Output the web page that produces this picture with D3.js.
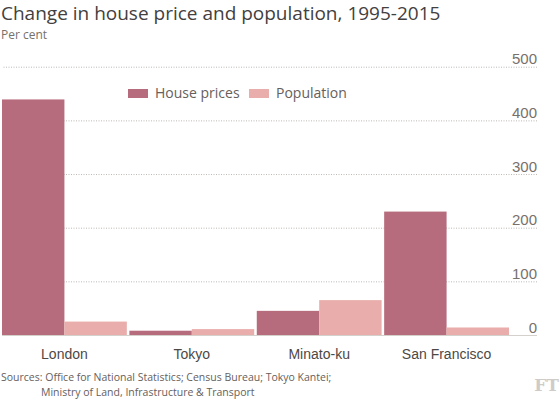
<!DOCTYPE html>
<html>
<head>
<meta charset="utf-8">
<script src="https://cdn.jsdelivr.net/npm/d3@7"></script>
<style>
  body { margin: 0; background: #fff; }
  svg { display: block; font-family: 'Open Sans', sans-serif; }
  .y-axis .domain, .x-axis .domain { display: none; }
  .y-axis line { stroke: #bdb8b4; stroke-dasharray: 1, 1.5; }
  .y-axis text { fill: #77716c; font-size: 15px; }
  .x-axis text { fill: #4d4845; font-size: 14px; }
</style>
</head>
<body>
<div class="chart"></div>
<script>
  const cities = ['London', 'Tokyo', 'Minato-ku', 'San Francisco'];
  const series = ['House prices', 'Population'];
  const housePrices = [439, 8, 45, 230];
  const population = [25, 11, 65, 14];
  const yTicks = [0, 100, 200, 300, 400, 500];

  const colors = { 'House prices': '#b76c7d', Population: '#e9aeac' };

  const width = 560;
  const height = 399;

  const svg = d3
    .select('.chart')
    .append('svg')
    .attr('width', width)
    .attr('height', height);

  const dataset = cities.map((city, i) => ({
    city,
    values: [
      { key: 'House prices', value: housePrices[i] },
      { key: 'Population', value: population[i] },
    ],
  }));

  const x0 = d3
    .scaleBand()
    .domain(cities)
    .range([2, 509])
    .paddingInner(0.02);
  const x1 = d3
    .scaleBand()
    .domain(series)
    .range([0, x0.bandwidth()]);
  const yScale = d3
    .scaleLinear()
    .domain([0, 500])
    .range([335, 66.7]);

  // Title
  svg
    .append('text')
    .attr('x', 1)
    .attr('y', 20)
    .attr('fill', '#43403e')
    .style('font-size', '19px')
    .text('Change in house price and population, 1995-2015');
  svg
    .append('text')
    .attr('x', 1)
    .attr('y', 39)
    .attr('fill', '#77716c')
    .style('font-size', '12px')
    .text('Per cent');

  // Gridlines + labels
  const yAxis = svg
    .append('g')
    .attr('class', 'y-axis')
    .attr('transform', 'translate(537, 0)')
    .call(
      d3
        .axisLeft(yScale)
        .tickValues(yTicks)
        .tickSize(535)
        .tickFormat(d3.format('d')),
    );
  yAxis
    .selectAll('.tick text')
    .attr('x', 0)
    .attr('dy', -3)
    .attr('text-anchor', 'end');
  yAxis
    .selectAll('.tick')
    .filter(d => d === 0)
    .select('line')
    .style('stroke-dasharray', 'none')
    .style('stroke', '#d4d0cc');

  // Bars
  const groups = svg
    .selectAll('.group')
    .data(dataset)
    .enter()
    .append('g')
    .attr('class', 'group')
    .attr('transform', d => `translate(${x0(d.city)}, 0)`);
  groups
    .selectAll('rect')
    .data(d => d.values)
    .enter()
    .append('rect')
    .attr('x', d => x1(d.key))
    .attr('y', d => yScale(d.value))
    .attr('width', x1.bandwidth())
    .attr('height', d => yScale(0) - yScale(d.value))
    .attr('fill', d => colors[d.key]);

  // City labels
  svg
    .append('g')
    .attr('class', 'x-axis')
    .attr('transform', 'translate(0, 335)')
    .call(d3.axisBottom(x0).tickSize(0).tickPadding(14));

  // Legend
  const legend = svg
    .selectAll('.legend')
    .data(series)
    .enter()
    .append('g')
    .attr('class', 'legend')
    .attr('transform', (d, i) => `translate(${[128, 249][i]}, 89)`);
  legend
    .append('rect')
    .attr('width', 20)
    .attr('height', 9)
    .attr('fill', d => colors[d]);
  legend
    .append('text')
    .attr('x', 27)
    .attr('y', 9)
    .attr('fill', '#66605c')
    .style('font-size', '14px')
    .text(d => d);

  // Sources
  svg
    .append('text')
    .attr('x', 1)
    .attr('y', 381)
    .attr('fill', '#66605c')
    .style('font-size', '10.5px')
    .text('Sources: Office for National Statistics; Census Bureau; Tokyo Kantei;');
  svg
    .append('text')
    .attr('x', 41)
    .attr('y', 395.5)
    .attr('fill', '#66605c')
    .style('font-size', '10.5px')
    .text('Ministry of Land, Infrastructure & Transport');

  svg
    .append('text')
    .attr('x', 559)
    .attr('y', 391)
    .attr('text-anchor', 'end')
    .attr('fill', '#cfcbc7')
    .style('font-family', "'DejaVu Serif', serif")
    .style('font-size', '17px')
    .style('font-weight', 'bold')
    .text('FT');
</script>
</body>
</html>
